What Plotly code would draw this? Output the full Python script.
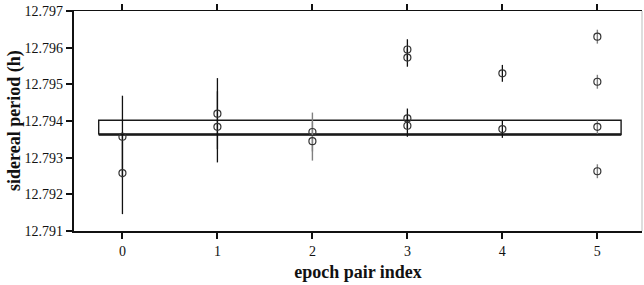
import plotly.graph_objects as go

# ---- data ----
epoch_index = [0, 0, 1, 1, 2, 2, 3, 3, 3, 3, 4, 4, 5, 5, 5, 5]
sidereal_period = [12.79357, 12.79258, 12.79420, 12.79384, 12.79370, 12.79345,
                   12.79407, 12.79387, 12.79595, 12.79573, 12.79530, 12.79378,
                   12.79630, 12.79507, 12.79384, 12.79263]
period_error = [0.00112, 0.00112, 0.00097, 0.00097, 0.00053, 0.00053,
                0.00027, 0.00030, 0.00028, 0.00025, 0.00023, 0.00024,
                0.00019, 0.00019, 0.00019, 0.00019]
# error-bar shade group: 0 = black, 1 = grey
bar_group = [0, 0, 0, 0, 1, 1, 0, 0, 0, 0, 0, 0, 1, 1, 1, 1]

band_x = [-0.25, 5.25]
band_y = [12.79363, 12.79402]

x_ticks = [0, 1, 2, 3, 4, 5]
y_ticks = [12.791, 12.792, 12.793, 12.794, 12.795, 12.796, 12.797]

FONT = "Liberation Serif"

fig = go.Figure()

# band rectangle
fig.add_trace(go.Scatter(
    x=[band_x[0], band_x[1], band_x[1], band_x[0], band_x[0]],
    y=[band_y[0], band_y[0], band_y[1], band_y[1], band_y[0]],
    mode="lines", line=dict(color="#1a1a1a", width=1.4),
    hoverinfo="skip", showlegend=False))
fig.add_trace(go.Scatter(
    x=band_x, y=[band_y[0], band_y[0]],
    mode="lines", line=dict(color="#1a1a1a", width=2.4),
    hoverinfo="skip", showlegend=False))

for grp, col, wid in [(0, "#111111", 1.3), (1, "#808080", 1.4)]:
    xs = [x for x, g in zip(epoch_index, bar_group) if g == grp]
    ys = [y for y, g in zip(sidereal_period, bar_group) if g == grp]
    es = [e for e, g in zip(period_error, bar_group) if g == grp]
    fig.add_trace(go.Scatter(
        x=xs, y=ys, mode="markers",
        marker=dict(symbol="circle-open", size=7, color="#333333",
                    line=dict(width=1.2, color="#333333")),
        error_y=dict(type="data", array=es, visible=True,
                     color=col, thickness=wid, width=0),
        showlegend=False))

# invisible trace for the top (mirrored) axis
fig.add_trace(go.Scatter(x=[0], y=[12.794], xaxis="x2", mode="markers",
                         marker=dict(opacity=0), hoverinfo="skip",
                         showlegend=False))

fig.update_layout(
    width=644, height=285,
    margin=dict(l=74, r=2, t=11, b=54, autoexpand=False),
    paper_bgcolor="white", plot_bgcolor="white",
    font=dict(family=FONT, color="#111111", size=14),
    xaxis=dict(range=[-0.51, 5.47], tickvals=x_ticks, automargin=False,
               ticks="outside", ticklen=6, tickwidth=1.5, tickcolor="#111111",
               showline=True, linewidth=2.2, linecolor="#111111",
               showgrid=False, zeroline=False,
               tickfont=dict(family=FONT, size=14),
               title=dict(text="<b>epoch pair index</b>",
                          font=dict(family=FONT, size=18), standoff=7)),
    xaxis2=dict(range=[-0.51, 5.47], tickvals=x_ticks, overlaying="x",
                automargin=False,
                side="top", ticks="outside", ticklen=6, tickwidth=1.5,
                tickcolor="#111111", showline=True, linewidth=1.4,
                linecolor="#111111", showticklabels=False,
                showgrid=False, zeroline=False),
    yaxis=dict(range=[12.791, 12.797], tickvals=y_ticks, tickformat=".3f",
               automargin=False,
               ticks="outside", ticklen=6, tickwidth=1.5, tickcolor="#111111",
               showline=True, linewidth=2.2, linecolor="#111111",
               showgrid=False, zeroline=False,
               tickfont=dict(family=FONT, size=14)),
    annotations=[dict(text="<b>sidereal period (h)</b>", textangle=-90,
                      xref="paper", yref="paper", x=(14 - 74) / 568, y=0.5,
                      xanchor="center", yanchor="middle", showarrow=False,
                      font=dict(family=FONT, size=18, color="#111111"))],
    shapes=[dict(type="line", xref="paper", yref="paper", x0=1, x1=1,
                 y0=0, y1=1, line=dict(color="#bbbbbb", width=1))],
)

fig.write_html("out.html", config={"displayModeBar": False},
               post_script="document.body.style.margin='0';"
                           "document.body.style.padding='0';")
